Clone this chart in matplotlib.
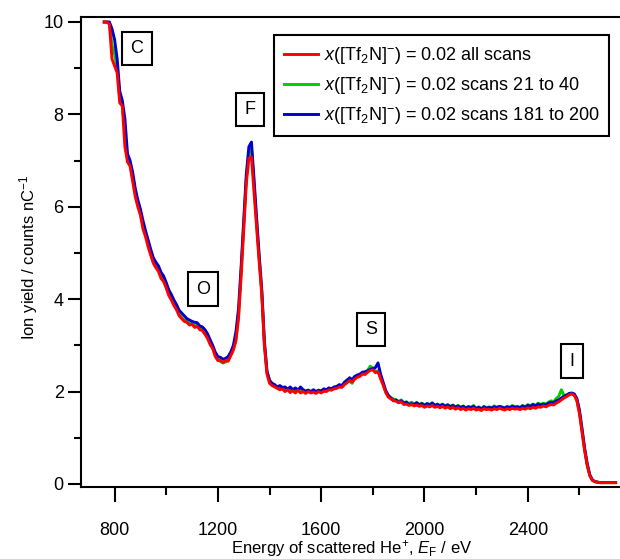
import numpy as np
import matplotlib
matplotlib.use("Agg")
import matplotlib.pyplot as plt
from matplotlib.ticker import MultipleLocator

plt.rcParams.update({
    "font.family": ["Liberation Sans", "DejaVu Sans"],
    "mathtext.fontset": "custom",
    "mathtext.rm": "Liberation Sans",
    "mathtext.it": "Liberation Sans:italic",
    "mathtext.bf": "Liberation Sans:bold",
})

# energy grid of the scans (eV), 10 eV steps
energy = np.arange(760, 2741, 10)

# x([Tf2N]-) = 0.02, all scans
all_scans = [
    10.0, 10.0, 9.95, 9.2, 9.05, 8.9, 8.25, 8.18, 7.3, 6.97,
    6.88, 6.55, 6.22, 6.0, 5.82, 5.52, 5.35, 5.13, 4.95, 4.78,
    4.68, 4.6, 4.45, 4.38, 4.24, 4.08, 3.98, 3.86, 3.77, 3.64,
    3.58, 3.52, 3.50, 3.44, 3.46, 3.39, 3.41, 3.34, 3.32, 3.24,
    3.15, 3.02, 2.93, 2.76, 2.67, 2.68, 2.63, 2.67, 2.66, 2.78,
    2.9, 3.1, 3.6, 4.5, 5.5, 6.5, 7.05, 7.08, 6.3, 5.55,
    4.8, 4.1, 3.0, 2.38, 2.18, 2.13, 2.10, 2.07, 2.04, 2.06,
    2.00, 2.04, 1.98, 2.02, 1.97, 2.03, 1.97, 2.00, 1.96, 2.00,
    1.97, 1.99, 1.96, 2.00, 1.97, 2.01, 2.00, 2.04, 2.03, 2.06,
    2.07, 2.10, 2.09, 2.15, 2.19, 2.24, 2.21, 2.27, 2.31, 2.33,
    2.38, 2.37, 2.42, 2.46, 2.47, 2.41, 2.43, 2.28, 2.14, 1.98,
    1.88, 1.84, 1.81, 1.79, 1.76, 1.78, 1.72, 1.73, 1.70, 1.72,
    1.69, 1.71, 1.68, 1.70, 1.66, 1.69, 1.67, 1.70, 1.66, 1.68,
    1.65, 1.68, 1.64, 1.67, 1.63, 1.66, 1.62, 1.65, 1.61, 1.64,
    1.60, 1.63, 1.61, 1.64, 1.60, 1.62, 1.59, 1.63, 1.61, 1.62,
    1.60, 1.63, 1.61, 1.64, 1.62, 1.60, 1.63, 1.61, 1.64, 1.62,
    1.63, 1.61, 1.64, 1.62, 1.65, 1.63, 1.66, 1.64, 1.67, 1.66,
    1.69, 1.67, 1.70, 1.72, 1.71, 1.75, 1.78, 1.82, 1.86, 1.89,
    1.93, 1.95, 1.92, 1.80, 1.52, 1.12, 0.72, 0.40, 0.18, 0.08,
    0.05, 0.04, 0.03, 0.03, 0.03, 0.03, 0.03, 0.03, 0.03,
]

# scans 21 to 40
scans_21_40 = [
    10.0, 10.0, 9.98, 9.5, 9.3, 9.0, 8.35, 8.22, 7.6, 7.05,
    6.92, 6.62, 6.30, 6.06, 5.88, 5.60, 5.40, 5.20, 5.00, 4.82,
    4.72, 4.63, 4.50, 4.42, 4.28, 4.12, 4.02, 3.90, 3.80, 3.68,
    3.60, 3.55, 3.52, 3.47, 3.48, 3.42, 3.44, 3.36, 3.35, 3.27,
    3.18, 3.05, 2.95, 2.80, 2.70, 2.65, 2.62, 2.64, 2.68, 2.80,
    2.92, 3.15, 3.65, 4.6, 5.6, 6.6, 7.15, 7.25, 6.45, 5.65,
    4.88, 4.15, 3.05, 2.42, 2.25, 2.16, 2.12, 2.10, 2.08, 2.08,
    2.03, 2.07, 2.01, 2.05, 2.00, 2.06, 2.00, 2.04, 1.99, 2.03,
    2.00, 2.02, 1.99, 2.03, 2.00, 2.04, 2.03, 2.07, 2.06, 2.09,
    2.10, 2.14, 2.12, 2.20, 2.26, 2.22, 2.18, 2.30, 2.33, 2.35,
    2.40, 2.40, 2.46, 2.55, 2.50, 2.44, 2.45, 2.30, 2.16, 2.00,
    1.90, 1.87, 1.84, 1.82, 1.79, 1.82, 1.76, 1.78, 1.74, 1.77,
    1.73, 1.76, 1.72, 1.75, 1.71, 1.74, 1.72, 1.76, 1.70, 1.73,
    1.70, 1.73, 1.69, 1.72, 1.68, 1.71, 1.67, 1.70, 1.66, 1.69,
    1.65, 1.68, 1.66, 1.70, 1.64, 1.67, 1.63, 1.68, 1.65, 1.67,
    1.65, 1.69, 1.66, 1.68, 1.67, 1.65, 1.68, 1.66, 1.70, 1.67,
    1.68, 1.66, 1.70, 1.67, 1.72, 1.69, 1.73, 1.70, 1.75, 1.72,
    1.75, 1.73, 1.77, 1.80, 1.78, 1.85, 1.90, 2.04, 1.92, 1.93,
    1.95, 1.96, 1.93, 1.82, 1.56, 1.16, 0.75, 0.42, 0.19, 0.08,
    0.05, 0.04, 0.03, 0.03, 0.03, 0.03, 0.03, 0.03, 0.03,
]

# scans 181 to 200
scans_181_200 = [
    10.0, 10.0, 10.0, 9.85, 9.62, 9.2, 8.5, 8.3, 7.9, 7.15,
    7.0, 6.75, 6.40, 6.15, 5.95, 5.70, 5.48, 5.28, 5.08, 4.90,
    4.80, 4.72, 4.58, 4.50, 4.36, 4.20, 4.10, 3.98, 3.88, 3.76,
    3.70, 3.64, 3.58, 3.55, 3.52, 3.50, 3.49, 3.42, 3.40, 3.34,
    3.25, 3.12, 3.00, 2.85, 2.76, 2.74, 2.70, 2.72, 2.76, 2.86,
    3.0, 3.3, 3.8, 4.7, 5.7, 6.7, 7.3, 7.40, 6.6, 5.75,
    4.95, 4.2, 3.1, 2.45, 2.24, 2.18, 2.15, 2.10, 2.13, 2.09,
    2.10, 2.05, 2.10, 2.04, 2.08, 2.02, 2.10, 2.04, 2.01, 2.03,
    2.00, 2.04, 2.00, 2.03, 2.01, 2.06, 2.04, 2.08, 2.06, 2.10,
    2.11, 2.15, 2.13, 2.20, 2.24, 2.30, 2.26, 2.33, 2.36, 2.38,
    2.42, 2.43, 2.45, 2.48, 2.50, 2.52, 2.62, 2.38, 2.20, 2.02,
    1.92, 1.86, 1.80, 1.82, 1.76, 1.80, 1.75, 1.77, 1.72, 1.74,
    1.72, 1.76, 1.71, 1.74, 1.70, 1.74, 1.71, 1.75, 1.70, 1.72,
    1.69, 1.72, 1.68, 1.71, 1.67, 1.70, 1.66, 1.69, 1.65, 1.68,
    1.64, 1.67, 1.65, 1.68, 1.63, 1.66, 1.62, 1.67, 1.64, 1.66,
    1.64, 1.67, 1.65, 1.68, 1.66, 1.64, 1.67, 1.65, 1.68, 1.66,
    1.67, 1.65, 1.69, 1.66, 1.70, 1.68, 1.72, 1.69, 1.73, 1.71,
    1.73, 1.71, 1.75, 1.77, 1.76, 1.80, 1.82, 1.86, 1.90, 1.92,
    1.96, 1.97, 1.95, 1.85, 1.60, 1.20, 0.78, 0.44, 0.20, 0.09,
    0.05, 0.04, 0.03, 0.03, 0.03, 0.03, 0.03, 0.03, 0.03,
]

# element labels and where they sit (eV, counts)
peak_names = ["C", "O", "F", "S", "I"]
peak_pos = [(887, 9.42), (1142, 4.22), (1324, 8.1), (1793, 3.35), (2571, 2.66)]

legend_labels = [
    r"$x$([Tf$_2$N]$^{-}$) = 0.02 all scans",
    r"$x$([Tf$_2$N]$^{-}$) = 0.02 scans 21 to 40",
    r"$x$([Tf$_2$N]$^{-}$) = 0.02 scans 181 to 200",
]

RED, GREEN, BLUE = "#ff0000", "#00cc00", "#0000cc"

fig = plt.figure(figsize=(6.2, 5.59), dpi=100)
ax = fig.add_axes([81 / 620, 72 / 559, 539 / 620, 470 / 559])

l_g, = ax.plot(energy, scans_21_40, color=GREEN, lw=2.1, zorder=2)
l_b, = ax.plot(energy, scans_181_200, color=BLUE, lw=2.1, zorder=3)
l_r, = ax.plot(energy, all_scans, color=RED, lw=2.1, zorder=4)

ax.set_xlim(670, 2757)
ax.set_ylim(-0.065, 10.108)

ax.xaxis.set_major_locator(MultipleLocator(400))
ax.xaxis.set_minor_locator(MultipleLocator(200))
ax.yaxis.set_major_locator(MultipleLocator(2))
ax.yaxis.set_minor_locator(MultipleLocator(1))
ax.tick_params(axis="both", which="both", direction="out", width=1.5,
               labelsize=13, top=False, right=False)
ax.tick_params(axis="x", which="major", length=11, pad=14)
ax.tick_params(axis="x", which="minor", length=6)
ax.tick_params(axis="y", which="major", length=9.5, pad=3)
ax.tick_params(axis="y", which="minor", length=5)

for side in ["left", "bottom", "top"]:
    ax.spines[side].set_linewidth(1.5)
ax.spines["right"].set_visible(False)

for name, (px, py) in zip(peak_names, peak_pos):
    ax.text(px, py, name, fontsize=13, ha="center", va="center", zorder=6,
            bbox=dict(boxstyle="square,pad=0.45", fc="white", ec="black", lw=1.5))

leg = ax.legend([l_r, l_g, l_b], legend_labels, loc="upper left",
                bbox_to_anchor=(274 / 620, 1 - 35 / 559),
                bbox_transform=fig.transFigure, fontsize=13,
                frameon=True, fancybox=False, framealpha=1,
                handlelength=1.9, handletextpad=0.3, labelspacing=0.5,
                borderpad=0.55, borderaxespad=0)
leg.get_frame().set_edgecolor("black")
leg.get_frame().set_linewidth(1.5)
leg.set_zorder(7)

ax.text(0.503, -0.13, r"Energy of scattered He$^{+}$, $E_\mathrm{F}$ / eV",
        transform=ax.transAxes, ha="center", va="center", fontsize=12)
ax.text(-0.098, 0.489, r"Ion yield / counts nC$^{-1}$", rotation=90,
        transform=ax.transAxes, ha="center", va="center", fontsize=12)

fig.savefig("out.png", dpi=100)
